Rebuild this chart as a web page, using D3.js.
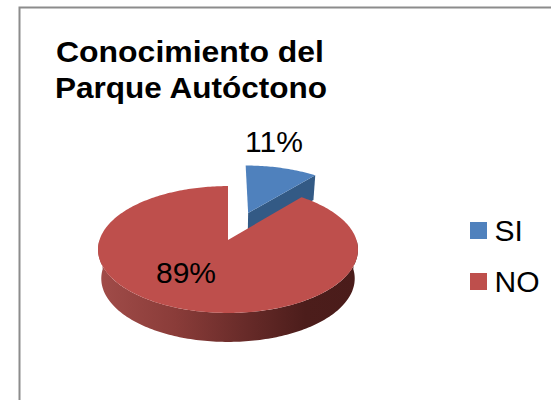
<!DOCTYPE html>
<html><head><meta charset="utf-8">
<script src="https://cdnjs.cloudflare.com/ajax/libs/d3/7.8.5/d3.min.js"></script>
<style>html,body{margin:0;padding:0;background:#fff}svg{display:block}text{font-family:"Liberation Sans",Arial,sans-serif;fill:#000}</style>
</head><body><div id="c"></div>
<script>
const categories = ["SI", "NO"];
const values = [11, 89];
const colors = ["#4F81BD", "#BE4F4C"];
const sideColors = ["#335A85", null];
const explode = [0.495, 0];
const titleLines = ["Conocimiento del", "Parque Autóctono"];
const titleWidths = [268, 272];

const W = 551, H = 400;
const cx = 228, cy = 240, rX = 128.5, rY = 62, persp = 0.15, depth = 29, taper = 0.025;

// perspective projection of the tilted disc: X right, Y towards the back, z down
const project = (X, Y, z = 0) => {
  const s = 1 + persp * Y;
  return [cx + rX * X / s * (1 - taper * z), cy - rY * Y / s + z * depth];
};
const svg = d3.select("#c").append("svg").attr("width", W).attr("height", H);
const defs = svg.append("defs");
const grad = defs.append("linearGradient").attr("id", "redSide")
  .attr("gradientUnits", "userSpaceOnUse").attr("x1", 98).attr("x2", 357).attr("y1", 0).attr("y2", 0);
[[0, "#A14C49"], [0.3, "#8A3C39"], [0.55, "#6A2C2A"], [0.8, "#4C1D1B"], [1, "#4A1C1A"]]
  .forEach(([o, c]) => grad.append("stop").attr("offset", o).attr("stop-color", c));

// frame (only the top and left edges show)
svg.append("path").attr("d", `M${W},7.5H19.5V${H}`).attr("fill", "none")
  .attr("stroke", "#8C8C8C").attr("stroke-width", 2);

const pie = d3.pie().sort(null).value(d => d);
const arcs = pie(values);
const line = d3.line();
const arcPts = (a0, a1, ox, oy, z) => {
  const n = Math.max(2, Math.ceil(Math.abs(a1 - a0) / 0.02));
  return d3.range(n + 1).map(i => {
    const a = a0 + (a1 - a0) * i / n;
    return project(ox + Math.sin(a), oy + Math.cos(a), z);
  });
};
const offset = i => {
  const mid = (arcs[i].startAngle + arcs[i].endAngle) / 2;
  return [explode[i] * Math.sin(mid), explode[i] * Math.cos(mid)];
};
const topPath = i => {
  const [ox, oy] = offset(i), d = arcs[i];
  return line([project(ox, oy), ...arcPts(d.startAngle, d.endAngle, ox, oy, 0)]) + "Z";
};

// SI: side wall along the slice's cut edge, then its top
{
  const [ox, oy] = offset(0), a = arcs[0].endAngle;
  const rim = [ox + Math.sin(a), oy + Math.cos(a)];
  svg.append("path").attr("fill", sideColors[0]).attr("d", line([
    project(ox, oy), project(rim[0], rim[1]), project(rim[0], rim[1], 0.85), project(ox, oy, 0.85)
  ]) + "Z");
  svg.append("path").attr("fill", colors[0]).attr("d", topPath(0));
}
// NO: front rim wall, then its top
{
  const d = arcs[1];
  const a0 = Math.max(d.startAngle, Math.PI / 2), a1 = Math.min(d.endAngle, 3 * Math.PI / 2);
  const top = arcPts(a0, a1, 0, 0, 0), bot = arcPts(a1, a0, 0, 0, 1);
  svg.append("path").attr("fill", "url(#redSide)").attr("d", line([...top, ...bot]) + "Z");
  svg.append("path").attr("fill", colors[1]).attr("d", topPath(1));
}

// title
svg.selectAll("text.title").data(titleLines).join("text").attr("class", "title")
  .attr("x", (d, i) => i ? 55 : 56).attr("y", (d, i) => 62 + i * 36)
  .attr("font-size", 29.5).attr("font-weight", "bold")
  .attr("textLength", (d, i) => titleWidths[i]).attr("lengthAdjust", "spacingAndGlyphs")
  .text(d => d);

// data labels
const labelPos = [[274, 152], [186, 283]];
svg.selectAll("text.lab").data(values).join("text").attr("class", "lab")
  .attr("text-anchor", "middle").attr("font-size", 30)
  .attr("x", (d, i) => labelPos[i][0]).attr("y", (d, i) => labelPos[i][1]).text(d => d + "%");

// legend
const ly = d3.scalePoint().domain(categories).range([222, 273]);
const lg = svg.selectAll("g.lg").data(categories).join("g").attr("class", "lg")
  .attr("transform", d => `translate(470,${ly(d)})`);
lg.append("rect").attr("width", 17).attr("height", 17).attr("fill", (d, i) => colors[i]);
lg.append("text").attr("x", 24.5).attr("y", 19).attr("font-size", 30).text(d => d);
</script></body></html>
